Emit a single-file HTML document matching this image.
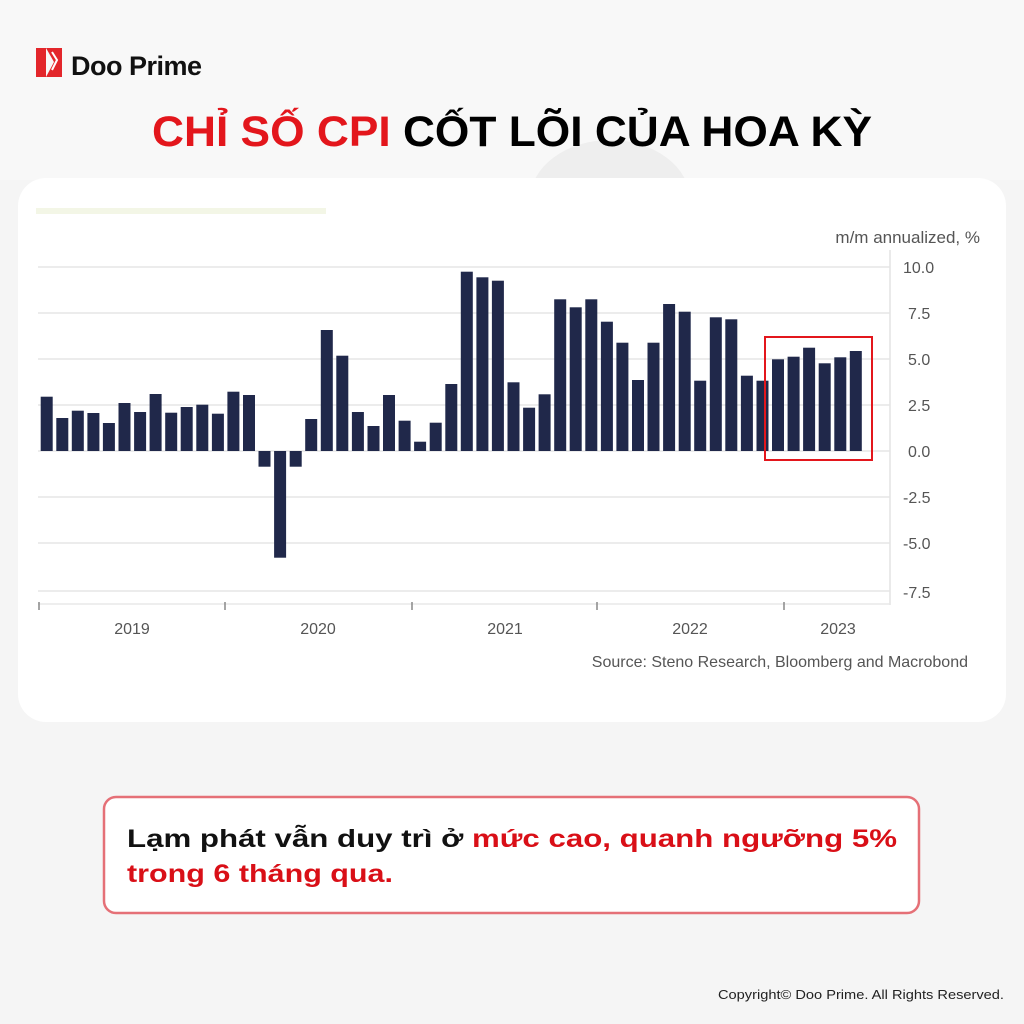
<!DOCTYPE html>
<html><head><meta charset="utf-8"><style>
body{margin:0;width:1024px;height:1024px;background:#f4f4f4;overflow:hidden;font-family:"Liberation Sans","Noto Sans CJK SC",sans-serif;}
</style></head><body>
<svg width="1024" height="1024" xmlns="http://www.w3.org/2000/svg" style="position:absolute;left:0;top:0">
<rect width="1024" height="1024" fill="#f5f5f5"/>
<rect x="0" y="0" width="1024" height="180" fill="#f8f8f8"/>
<ellipse cx="610" cy="200" rx="80" ry="60" fill="#eeeeee"/>
<rect x="36" y="48" width="10" height="29" fill="#e3262b"/>
<polygon points="46,48 62,48 62,77 46,77 54,62" fill="#e3262b"/>
<path d="M52 52 L57 60 L52 70" stroke="#fff" stroke-width="2" fill="none"/>
<text x="71" y="75" font-family="Liberation Sans, sans-serif" font-weight="bold" font-size="27" fill="#111" letter-spacing="-0.5">Doo Prime</text>
<text x="512" y="146" text-anchor="middle" font-family="Liberation Sans, sans-serif" font-weight="bold" font-size="43" textLength="720" lengthAdjust="spacingAndGlyphs"><tspan fill="#e3161c">CHỈ SỐ CPI</tspan><tspan fill="#000"> CỐT LÕI CỦA HOA KỲ</tspan></text>
<rect x="18" y="178" width="988" height="544" rx="28" fill="#fff"/>
<rect x="36" y="208" width="290" height="6" fill="#f3f6e6"/>
<text x="980" y="243" text-anchor="end" font-size="17" fill="#555">m/m annualized, %</text>
<g stroke="#ececec" stroke-width="2">
<line x1="38" y1="267" x2="890" y2="267"/><line x1="38" y1="313" x2="890" y2="313"/>
<line x1="38" y1="359" x2="890" y2="359"/><line x1="38" y1="405" x2="890" y2="405"/>
<line x1="38" y1="451" x2="890" y2="451"/><line x1="38" y1="497" x2="890" y2="497"/>
<line x1="38" y1="543" x2="890" y2="543"/><line x1="38" y1="591" x2="890" y2="591"/>
</g>
<line x1="890" y1="250" x2="890" y2="605" stroke="#e4e4e4" stroke-width="1.5"/>
<line x1="38" y1="604" x2="890" y2="604" stroke="#e8e8e8" stroke-width="1.5"/>
<g stroke="#888" stroke-width="1.5">
<line x1="39" y1="602" x2="39" y2="610"/><line x1="225" y1="602" x2="225" y2="610"/>
<line x1="412" y1="602" x2="412" y2="610"/><line x1="597" y1="602" x2="597" y2="610"/>
<line x1="784" y1="602" x2="784" y2="610"/>
</g>
<g font-size="16" fill="#555">
<text x="903" y="273">10.0</text><text x="908" y="319">7.5</text><text x="908" y="365">5.0</text>
<text x="908" y="411">2.5</text><text x="908" y="457">0.0</text><text x="903" y="503">-2.5</text>
<text x="903" y="549">-5.0</text><text x="903" y="598">-7.5</text>
</g>
<g font-size="16" fill="#555" text-anchor="middle">
<text x="132" y="634">2019</text><text x="318" y="634">2020</text><text x="505" y="634">2021</text>
<text x="690" y="634">2022</text><text x="838" y="634">2023</text>
</g>
<text x="968" y="667" text-anchor="end" font-size="16" fill="#555">Source: Steno Research, Bloomberg and Macrobond</text>
<g fill="#20284a">
<rect x="40.7" y="396.7" width="12" height="54.3"/>
<rect x="56.3" y="418" width="12" height="33"/>
<rect x="71.8" y="410.7" width="12" height="40.3"/>
<rect x="87.4" y="413" width="12" height="38"/>
<rect x="102.9" y="423" width="12" height="28"/>
<rect x="118.5" y="403" width="12" height="48"/>
<rect x="134.1" y="412" width="12" height="39"/>
<rect x="149.6" y="394" width="12" height="57"/>
<rect x="165.2" y="412.7" width="12" height="38.3"/>
<rect x="180.7" y="407" width="12" height="44"/>
<rect x="196.3" y="404.7" width="12" height="46.3"/>
<rect x="211.9" y="413.7" width="12" height="37.3"/>
<rect x="227.4" y="391.7" width="12" height="59.3"/>
<rect x="243.0" y="395" width="12" height="56"/>
<rect x="258.5" y="451" width="12" height="15.7"/>
<rect x="274.1" y="451" width="12" height="106.7"/>
<rect x="289.7" y="451" width="12" height="15.7"/>
<rect x="305.2" y="419" width="12" height="32"/>
<rect x="320.8" y="330" width="12" height="121"/>
<rect x="336.3" y="355.7" width="12" height="95.3"/>
<rect x="351.9" y="412" width="12" height="39"/>
<rect x="367.5" y="426" width="12" height="25"/>
<rect x="383.0" y="395" width="12" height="56"/>
<rect x="398.6" y="420.7" width="12" height="30.3"/>
<rect x="414.1" y="441.7" width="12" height="9.3"/>
<rect x="429.7" y="422.7" width="12" height="28.3"/>
<rect x="445.3" y="384" width="12" height="67"/>
<rect x="460.8" y="271.7" width="12" height="179.3"/>
<rect x="476.4" y="277.3" width="12" height="173.7"/>
<rect x="491.9" y="280.7" width="12" height="170.3"/>
<rect x="507.5" y="382.3" width="12" height="68.7"/>
<rect x="523.1" y="407.7" width="12" height="43.3"/>
<rect x="538.6" y="394.3" width="12" height="56.7"/>
<rect x="554.2" y="299.3" width="12" height="151.7"/>
<rect x="569.7" y="307.3" width="12" height="143.7"/>
<rect x="585.3" y="299.3" width="12" height="151.7"/>
<rect x="600.9" y="321.7" width="12" height="129.3"/>
<rect x="616.4" y="342.7" width="12" height="108.3"/>
<rect x="632.0" y="380" width="12" height="71"/>
<rect x="647.5" y="342.7" width="12" height="108.3"/>
<rect x="663.1" y="304" width="12" height="147"/>
<rect x="678.7" y="311.7" width="12" height="139.3"/>
<rect x="694.2" y="380.7" width="12" height="70.3"/>
<rect x="709.8" y="317.3" width="12" height="133.7"/>
<rect x="725.3" y="319.3" width="12" height="131.7"/>
<rect x="740.9" y="375.7" width="12" height="75.3"/>
<rect x="756.5" y="380.7" width="12" height="70.3"/>
<rect x="772.0" y="359.3" width="12" height="91.7"/>
<rect x="787.6" y="356.7" width="12" height="94.3"/>
<rect x="803.1" y="347.7" width="12" height="103.3"/>
<rect x="818.7" y="363.3" width="12" height="87.7"/>
<rect x="834.3" y="357.3" width="12" height="93.7"/>
<rect x="849.8" y="351" width="12" height="100"/>
</g>
<rect x="765" y="337" width="107" height="123" fill="none" stroke="#e3161c" stroke-width="2"/>
<rect x="104" y="797" width="815" height="116" rx="12" fill="#fff" stroke="#e57077" stroke-width="2.5"/>
<text x="127" y="847" font-family="Liberation Sans, sans-serif" font-weight="bold" font-size="25" textLength="770" lengthAdjust="spacingAndGlyphs"><tspan fill="#111">Lạm phát vẫn duy trì ở </tspan><tspan fill="#d90f17">mức cao, quanh ngưỡng 5%</tspan></text>
<text x="127" y="882" font-family="Liberation Sans, sans-serif" font-weight="bold" font-size="25" fill="#d90f17" textLength="266" lengthAdjust="spacingAndGlyphs">trong 6 tháng qua.</text>
<text x="1004" y="999" text-anchor="end" font-size="12.5" fill="#222" textLength="286" lengthAdjust="spacingAndGlyphs">Copyright© Doo Prime. All Rights Reserved.</text>
</svg>
</body></html>
